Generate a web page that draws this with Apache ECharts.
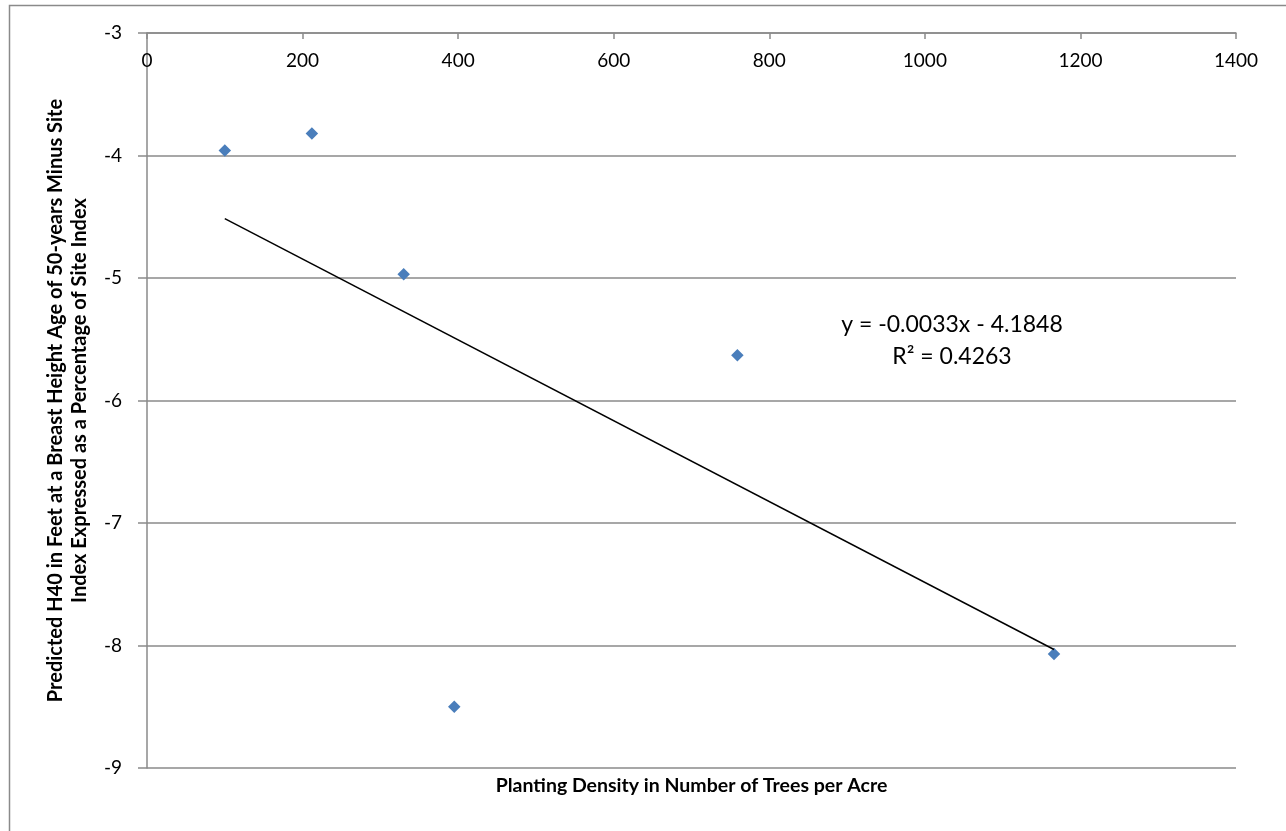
<!DOCTYPE html>
<html>
<head>
<meta charset="utf-8">
<script src="https://cdn.jsdelivr.net/npm/echarts@6/dist/echarts.min.js"></script>
<style>
html,body{margin:0;padding:0;background:#fff;}
#chart{width:1286px;height:831px;}
</style>
</head>
<body>
<div id="chart"></div>
<script>
// Data
const densityX = [100, 212, 330, 395, 759, 1166];
const heightDiffY = [-3.96, -3.82, -4.97, -8.50, -5.63, -8.07];
const trendSlope = -0.0033;
const trendIntercept = -4.1848;
const trendR2 = 0.4263;
const xTicks = [0, 200, 400, 600, 800, 1000, 1200, 1400];
const yTicks = [-9, -8, -7, -6, -5, -4, -3];
const xTitle = 'Planting Density in Number of Trees per Acre';
const yTitle = 'Predicted H40 in Feet at a Breast Height Age of 50-years Minus Site\nIndex Expressed as a Percentage of Site Index';

const points = densityX.map((x, i) => [x, heightDiffY[i]]);
const xMinData = Math.min(...densityX);
const xMaxData = Math.max(...densityX);
const trendData = [
  [xMinData, trendSlope * xMinData + trendIntercept],
  [xMaxData, trendSlope * xMaxData + trendIntercept]
];

const FONT = 'Lato, "Noto Sans", sans-serif';
const GRID_COLOR = '#8a8a8a';

const eqText = 'y = ' + trendSlope.toFixed(4) + 'x - ' + Math.abs(trendIntercept).toFixed(4) + '\nR\u00B2 = ' + trendR2.toFixed(4);

const chart = echarts.init(document.getElementById('chart'), null, {renderer: 'canvas'});
chart.setOption({
  animation: false,
  backgroundColor: '#fff',
  grid: {left: 147, top: 33, right: 50, bottom: 63, containLabel: false},
  xAxis: {
    type: 'value',
    position: 'top',
    min: xTicks[0],
    max: xTicks[xTicks.length - 1],
    interval: 200,
    name: xTitle,
    nameLocation: 'middle',
    nameGap: -763,
    nameTextStyle: {fontFamily: FONT, fontSize: 19.5, fontWeight: 'bold', color: '#000'},
    axisLine: {show: true, lineStyle: {color: GRID_COLOR, width: 1.5}},
    axisTick: {show: true, inside: true, length: 6, lineStyle: {color: GRID_COLOR, width: 1.5}},
    axisLabel: {inside: true, margin: 18, fontFamily: FONT, fontSize: 19, color: '#000', formatter: v => String(v)},
    splitLine: {show: false}
  },
  yAxis: {
    type: 'value',
    min: yTicks[0],
    max: yTicks[yTicks.length - 1],
    interval: 1,
    name: yTitle,
    nameLocation: 'middle',
    nameRotate: 90,
    nameGap: 55,
    nameTextStyle: {fontFamily: FONT, fontSize: 20, fontWeight: 'bold', color: '#000', lineHeight: 24, align: 'center'},
    axisLine: {show: true, lineStyle: {color: GRID_COLOR, width: 1.5}},
    axisTick: {show: true, inside: false, length: 9, lineStyle: {color: GRID_COLOR, width: 1.5}},
    axisLabel: {margin: 25, fontFamily: FONT, fontSize: 19, color: '#000', formatter: v => String(v)},
    splitLine: {show: true, lineStyle: {color: GRID_COLOR, width: 1.5}}
  },
  graphic: [
    {type: 'rect', left: 7, top: 3, shape: {width: 1400, height: 900}, style: {fill: 'none', stroke: '#8a8a8a', lineWidth: 1.5}, silent: true, z: 100},
    {type: 'text', x: 952, y: 341, style: {text: eqText, font: '23px ' + FONT, fill: '#000', align: 'center', verticalAlign: 'middle', lineHeight: 32}, z: 10}
  ],
  series: [
    {
      type: 'scatter',
      data: points,
      symbol: 'diamond',
      symbolSize: 12.5,
      itemStyle: {color: '#4A7EBB', opacity: 1},
      z: 3
    },
    {
      type: 'line',
      data: trendData,
      symbol: 'none',
      lineStyle: {color: '#000', width: 1.5},
      z: 4
    }
  ]
});
</script>
</body>
</html>
